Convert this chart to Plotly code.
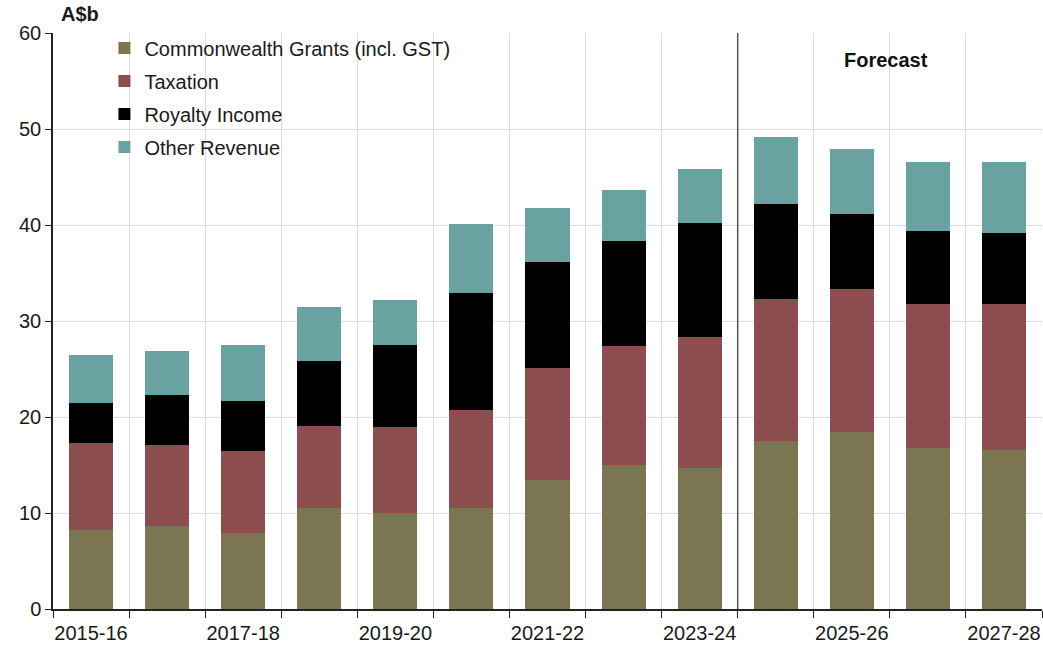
import plotly.graph_objects as go

# Financial years shown on the x axis
years = ["2015-16", "2016-17", "2017-18", "2018-19", "2019-20", "2020-21", "2021-22",
         "2022-23", "2023-24", "2024-25", "2025-26", "2026-27", "2027-28"]

# Cumulative tops of each stacked component (A$b)
cg_top = [8.2, 8.6, 7.9, 10.5, 10.0, 10.5, 13.4, 15.0, 14.7, 17.5, 18.4, 16.8, 16.6]
tax_top = [17.3, 17.1, 16.5, 19.1, 19.0, 20.7, 25.1, 27.4, 28.3, 32.3, 33.3, 31.8, 31.8]
roy_top = [21.5, 22.3, 21.7, 25.8, 27.5, 32.9, 36.1, 38.3, 40.2, 42.2, 41.1, 39.4, 39.2]
oth_top = [26.5, 26.9, 27.5, 31.5, 32.2, 40.1, 41.8, 43.6, 45.8, 49.2, 47.9, 46.6, 46.6]

# Component values
commonwealth = cg_top
taxation = [round(t - c, 2) for t, c in zip(tax_top, cg_top)]
royalty = [round(r - t, 2) for r, t in zip(roy_top, tax_top)]
other = [round(o - r, 2) for o, r in zip(oth_top, roy_top)]

tick_labels = ["2015-16", "2017-18", "2019-20", "2021-22", "2023-24", "2025-26", "2027-28"]

FONT = "Liberation Sans, Arial, sans-serif"
x = list(range(len(years)))

series = [
    ("Commonwealth Grants (incl. GST)", commonwealth, "#7b7551"),
    ("Taxation", taxation, "#8b4d4d"),
    ("Royalty Income", royalty, "#000000"),
    ("Other Revenue", other, "#6aa2a2"),
]

fig = go.Figure()
for name, vals, color in series:
    fig.add_trace(go.Bar(
        x=x, y=vals, name=name, legendgroup=name,
        marker=dict(color=color, line=dict(width=0)),
        width=0.58, customdata=years,
    ))

fig.update_layout(
    barmode="stack",
    width=1043, height=646,
    margin=dict(l=53, r=1, t=33, b=37),
    paper_bgcolor="white", plot_bgcolor="white",
    font=dict(family=FONT, size=20, color="#1a1a1a"),
    showlegend=True,
    legend=dict(
        x=0.052, y=1.008, xanchor="left", yanchor="top",
        bgcolor="rgba(0,0,0,0)", traceorder="grouped",
        font=dict(size=20), itemsizing="constant",
        tracegroupgap=4, itemwidth=30,
    ),
    xaxis=dict(
        range=[-0.5, len(years) - 0.5],
        tickmode="array",
        tickvals=[i for i in x if years[i] in tick_labels],
        ticktext=[years[i] for i in x if years[i] in tick_labels],
        ticks="", showgrid=False,
        ticklabelstandoff=5,
        showline=True, linecolor="#222222", linewidth=1.5,
        minor=dict(
            tickmode="array",
            tickvals=[i - 0.5 for i in range(len(years) + 1)],
            ticks="outside", ticklen=7, tickcolor="#222222",
            showgrid=True, gridcolor="#dcdcdc", gridwidth=1,
        ),
        zeroline=False,
        tickfont=dict(size=20),
    ),
    yaxis=dict(
        range=[0, 60], dtick=10,
        showgrid=True, gridcolor="#dcdcdc", gridwidth=1,
        showline=True, linecolor="#222222", linewidth=1.5,
        ticks="outside", ticklen=6, tickcolor="#222222",
        zeroline=False, tickfont=dict(size=20),
    ),
    annotations=[
        dict(text="<b>A$b</b>", xref="paper", yref="paper", x=0.006, y=1.0,
             yshift=6, xanchor="left", yanchor="bottom", showarrow=False,
             font=dict(size=20, color="#1a1a1a")),
        dict(text="<b>Forecast</b>", xref="x", yref="y", x=10.45, y=57.2,
             xanchor="center", yanchor="middle", showarrow=False,
             font=dict(size=20, color="#111111")),
    ],
    shapes=[
        dict(type="line", xref="x", yref="paper", x0=8.5, x1=8.5, y0=0, y1=1,
             line=dict(color="#555555", width=1.5)),
    ],
)

fig.write_html("out.html")
